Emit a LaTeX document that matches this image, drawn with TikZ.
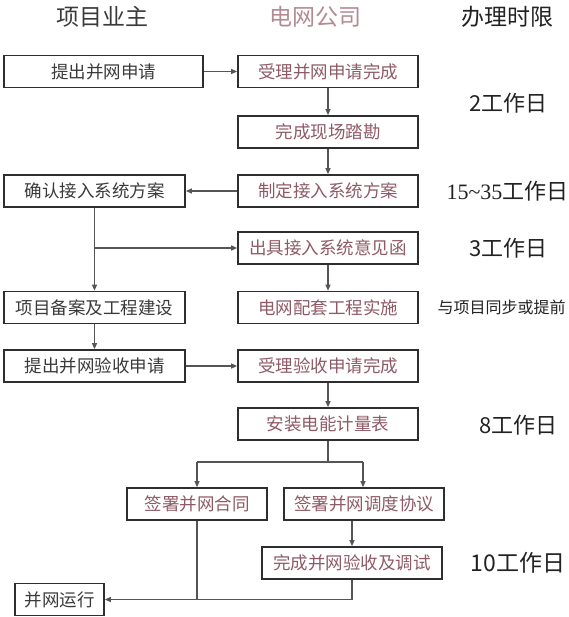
\documentclass[tikz,border=0pt]{standalone}
\usepackage{fontspec}
\setmainfont{Noto Sans CJK SC}
\newfontfamily\timesfont{Liberation Serif}
\usetikzlibrary{arrows.meta}

\definecolor{boxline}{HTML}{2E2E2E}
\definecolor{flowline}{HTML}{555555}
\definecolor{ownertext}{HTML}{3A3A3A}
\definecolor{gridtext}{HTML}{8E5A66}
\definecolor{headpink}{HTML}{B48A92}
\definecolor{daytext}{HTML}{222222}

\tikzset{
  ownerbox/.style={draw=boxline, line width=1.7pt, text=ownertext, minimum width=181pt,
    minimum height=32pt, inner sep=0pt, font=\fontsize{17.5}{20}\selectfont},
  gridbox/.style={ownerbox, text=gridtext, minimum width=180pt},
  flow/.style={draw=flowline, line width=1.2pt, -{Triangle[length=6pt,width=5pt]}},
  plain/.style={draw=flowline, line width=1.2pt},
  head/.style={font=\fontsize{23}{26}\selectfont},
  days/.style={anchor=west, text=daytext, font=\fontsize{22}{24}\selectfont}
}

\begin{document}
\begin{tikzpicture}[x=1pt,y=-1pt]
      \useasboundingbox (0,0) rectangle (568,617);
      \clip (0,0) rectangle (568,617);

      % column heads
      \node[head, text=ownertext] (h1) at (102,17) {项目业主};
      \node[head, text=headpink]  (h2) at (315,17) {电网公司};
      \node[head, text=daytext]   (h3) at (507,17) {办理时限};

      \begin{scope}
        \node[ownerbox, minimum width=199pt] (1) at (103.5,71.5) {提出并网申请};
        \node[gridbox]  (2)  at (328,71.5)  {受理并网申请完成};
        \node[gridbox]  (3)  at (328,132)   {完成现场踏勘};
        \node[gridbox]  (4)  at (328,191)   {制定接入系统方案};
        \node[ownerbox] (5)  at (94.5,191)  {确认接入系统方案};
        \node[gridbox]  (6)  at (328,248)   {出具接入系统意见函};
        \node[ownerbox] (7)  at (94.5,307.5) {项目备案及工程建设};
        \node[gridbox]  (8)  at (328,307.5) {电网配套工程实施};
        \node[ownerbox] (9)  at (94.5,366)  {提出并网验收申请};
        \node[gridbox]  (10) at (328,366)   {受理验收申请完成};
        \node[gridbox]  (11) at (328,424)   {安装电能计量表};
        \node[gridbox, minimum width=140pt] (12) at (197,504) {签署并网合同};
        \node[gridbox, minimum width=160pt] (13) at (364,504) {签署并网调度协议};
        \node[gridbox]  (14) at (352,563)   {完成并网验收及调试};
        \node[ownerbox, minimum width=89pt] (15) at (59.5,599.5) {并网运行};
      \end{scope}

      % time limits
      \node[days] (t1) at (466,103) {2工作日};
      \node[days] (t2) at (443,191) {{\timesfont 15\textasciitilde35}工作日};
      \node[days] (t3) at (466,248) {3工作日};
      \node[days, font=\fontsize{16}{18}\selectfont] (t4) at (434,307.5) {与项目同步或提前};
      \node[days] (t5) at (476,425) {8工作日};
      \node[days, font=\fontsize{23}{26}\selectfont] (t6) at (467,563) {10工作日};

      \coordinate (m)   at (328,462);
      \coordinate (lft) at (197,462);
      \coordinate (rgt) at (363,462);

      \begin{scope}[every edge/.style={flow}]
        \path (1)  edge (2);
        \path (2)  edge (3);
        \path (3)  edge (4);
        \path (4)  edge (5);
        \path (5)  edge (7);
        \path (6)  edge (8);
        \path (7)  edge (9);
        \path (9)  edge (10);
        \path (10) edge (11);
      \end{scope}

      \draw[flow] (5.south |- 6.west) -- (6.west);
      \draw[plain] (11.south) -- (m);
      \draw[plain] (lft) -- (rgt);
      \draw[flow] (lft) -- (12.north);
      \draw[flow] (rgt) -- (rgt |- 13.north);
      \draw[flow] (13.south -| 14.north) -- (14.north);
      \draw[plain] (12.south) -- (12.south |- 15.east);
      \draw[flow] (14.south) |- (15.east);

\end{tikzpicture}
\end{document}
